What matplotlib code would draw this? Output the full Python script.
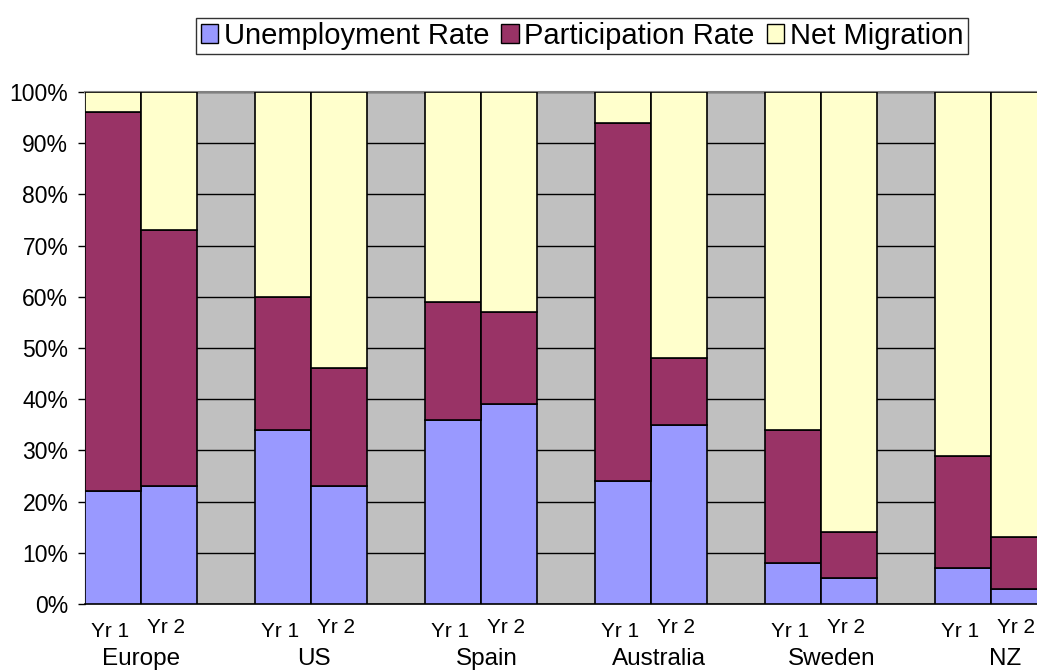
import matplotlib
matplotlib.use("Agg")
import matplotlib.pyplot as plt
from matplotlib.ticker import PercentFormatter
import numpy as np

plt.rcParams['font.family'] = ['Liberation Sans', 'DejaVu Sans']

# data (percent of total, stacked to 100%)
countries = ['Europe', 'US', 'Spain', 'Australia', 'Sweden', 'NZ']
years = ['Yr 1', 'Yr 2']
unemployment = [22, 23, 34, 23, 36, 39, 24, 35, 8, 5, 7, 3]
participation = [74, 50, 26, 23, 23, 18, 70, 13, 26, 9, 22, 10]
net_migration = [4, 27, 40, 54, 41, 43, 6, 52, 66, 86, 71, 87]

series = [
    ('Unemployment Rate', unemployment, '#9999FF'),
    ('Participation Rate', participation, '#993366'),
    ('Net Migration', net_migration, '#FFFFCC'),
]

# bar layout: bar width 1, groups spaced so the gap is ~1.04 bars
group_step = 170 / 56
n_years = len(years)
x_left = np.array([g * group_step + j for g in range(len(countries)) for j in range(n_years)])

fig = plt.figure(figsize=(10.37, 6.71), dpi=100)
ax = fig.add_axes([85 / 1037, 67 / 671, 1 - 85 / 1037, 512 / 671])
ax.set_facecolor('#C0C0C0')

bottom = np.zeros(len(x_left))
for name, vals, col in series:
    vals = np.array(vals, dtype=float)
    ax.bar(x_left, vals, width=1, bottom=bottom, align='edge', color=col,
           edgecolor='black', linewidth=1.2, label=name, zorder=3)
    bottom += vals

ax.set_xlim(0, 952 / 56)
ax.set_ylim(0, 100)
ax.set_yticks(np.arange(0, 101, 10))
ax.yaxis.set_major_formatter(PercentFormatter(decimals=0))
ax.tick_params(axis='y', labelsize=16.5, length=5, width=1, color='black', pad=7)
ax.set_xticks([])
ax.grid(axis='y', color='black', linewidth=1, zorder=0)
ax.set_axisbelow(True)

ax.spines['right'].set_visible(False)
ax.spines['top'].set_color('#808080')
ax.spines['top'].set_linewidth(1.5)
ax.spines['left'].set_color('black')
ax.spines['bottom'].set_color('black')
ax.spines['bottom'].set_linewidth(1.2)

# category labels
trans = ax.get_xaxis_transform()
for i, xl in enumerate(x_left):
    yoff = -0.046 if i % 2 else -0.053
    ax.text(xl + 0.45, yoff, years[i % n_years], transform=trans, ha='center', va='center',
            fontsize=15, clip_on=False)
for g, c in enumerate(countries):
    cx = g * group_step + 1 + 0.05 * g
    ax.text(cx, -0.108, c, transform=trans, ha='center', va='center', fontsize=17.5, clip_on=False)

leg = fig.legend(loc='center', bbox_to_anchor=(582 / 1037, 1 - 36 / 671), ncol=3,
                 fontsize=21, frameon=True, fancybox=False, shadow=False,
                 handlelength=0.6, handleheight=0.6, handletextpad=0.2,
                 columnspacing=0.4, borderpad=0.15, borderaxespad=0)
leg.get_frame().set_edgecolor('black')
leg.get_frame().set_linewidth(1)
for h in leg.legend_handles:
    h.set_linewidth(1)

fig.savefig('out.png', dpi=100)
